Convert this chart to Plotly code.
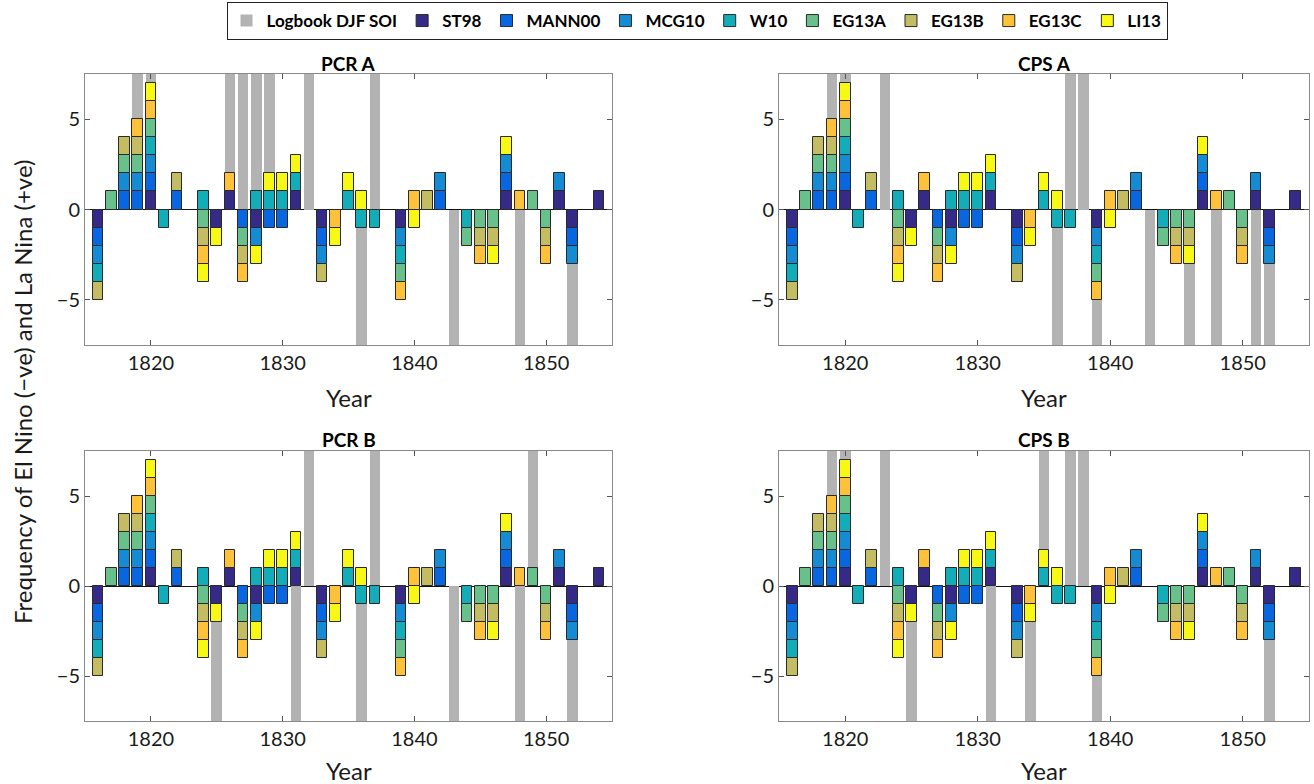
import plotly.graph_objects as go
from plotly.subplots import make_subplots

years = list(range(1816, 1855))

# ENSO classification per reconstruction (+1 La Nina, -1 El Nino), years 1816..1854
ST98 = [-1, 0, 0, 0, 1, 0, 0, 0, 0, -1,
        1, 0, -1, 0, 0, 1, 0, -1, 0, 0,
        0, 0, 0, -1, 0, 0, 0, 0, 0, 0,
        0, 1, 0, 0, 0, 1, -1, 0, 1]
MANN00 = [-1, 0, 1, 1, 1, 0, 1, 0, 0, 0,
          0, -1, 0, -1, -1, 0, 0, -1, 0, 0,
          0, 0, 0, 0, 0, 0, 1, 0, 0, 0,
          0, 1, 0, 0, 0, 0, -1, 0, 0]
MCG10 = [-1, 0, 1, 1, 1, 0, 0, 0, 0, 0,
         0, 0, -1, 0, 0, 0, 0, -1, 0, 0,
         0, 0, 0, -1, 0, 0, 1, 0, 0, 0,
         0, 1, 0, 0, 0, 1, -1, 0, 0]
W10 = [-1, 0, 0, 0, 1, -1, 0, 0, 1, 0,
       0, 0, 1, 1, 1, 1, 0, 0, 0, 1,
       -1, -1, 0, -1, 0, 0, 0, 0, -1, 0,
       0, 0, 0, 0, 0, 0, 0, 0, 0]
EG13A = [0, 1, 1, 1, 1, 0, 0, 0, -1, 0,
         0, -1, 0, 0, 0, 0, 0, 0, 0, 0,
         0, 0, 0, -1, 0, 0, 0, 0, -1, -1,
         -1, 0, 0, 1, -1, 0, 0, 0, 0]
EG13B = [-1, 0, 1, 1, 0, 0, 1, 0, -1, 0,
         0, -1, 0, 0, 0, 0, 0, -1, 0, 0,
         0, 0, 0, 0, 0, 1, 0, 0, 0, -1,
         -1, 0, 0, 0, -1, 0, 0, 0, 0]
EG13C = [0, 0, 0, 1, 1, 0, 0, 0, -1, 0,
         1, -1, 0, 0, 0, 0, 0, 0, -1, 0,
         0, 0, 0, -1, 1, 0, 0, 0, 0, -1,
         0, 0, 1, 0, -1, 0, 0, 0, 0]
LI13 = [0, 0, 0, 0, 1, 0, 0, 0, -1, -1,
        0, 0, -1, 1, 1, 1, 0, 0, -1, 1,
        1, 0, 0, 0, -1, 0, 0, 0, 0, 0,
        -1, 1, 0, 0, 0, 0, 0, 0, 0]

model_names = ["ST98", "MANN00", "MCG10", "W10", "EG13A", "EG13B", "EG13C", "LI13"]
model_values = [ST98, MANN00, MCG10, W10, EG13A, EG13B, EG13C, LI13]
model_colors = ["#352a87", "#0766e0", "#158bd4", "#12adb8", "#68c08a",
                "#c4bc62", "#fdc13a", "#f7f814"]

# Logbook DJF SOI years per panel (La Nina top / El Nino bottom)
PCR_A_nina = [1819, 1820, 1826, 1827, 1828, 1829, 1832, 1837]
PCR_A_nino = [1836, 1843, 1848, 1852]
CPS_A_nina = [1819, 1820, 1823, 1837, 1838]
CPS_A_nino = [1836, 1839, 1843, 1846, 1848, 1851, 1852]
PCR_B_nina = [1832, 1837, 1849]
PCR_B_nino = [1825, 1831, 1836, 1843, 1848, 1852]
CPS_B_nina = [1819, 1820, 1823, 1835, 1837, 1838]
CPS_B_nino = [1825, 1831, 1834, 1839, 1852]

panel_titles = ["PCR A", "CPS A", "PCR B", "CPS B"]
panel_soi = [(PCR_A_nina, PCR_A_nino), (CPS_A_nina, CPS_A_nino),
             (PCR_B_nina, PCR_B_nino), (CPS_B_nina, CPS_B_nino)]
SOI_EXTENT = 10  # gray bars run beyond the axis limits

fig = make_subplots(rows=2, cols=2)
positions = [(1, 1), (1, 2), (2, 1), (2, 2)]

for p, ((r, c), (nina, nino)) in enumerate(zip(positions, panel_soi)):
    sx = nina + nino
    sy = [SOI_EXTENT] * len(nina) + [-SOI_EXTENT] * len(nino)
    fig.add_trace(go.Bar(x=sx, y=sy, base=0, width=0.8, name="Logbook DJF SOI",
                         marker=dict(color="#b3b3b3", line=dict(width=0)),
                         showlegend=(p == 0), legendgroup="soi"), row=r, col=c)
    pos = [0] * len(years)
    neg = [0] * len(years)
    for name, vals, col in zip(model_names, model_values, model_colors):
        bx, by, bb = [], [], []
        for i, v in enumerate(vals):
            if v > 0:
                bx.append(years[i]); by.append(v); bb.append(pos[i]); pos[i] += v
            elif v < 0:
                bx.append(years[i]); by.append(v); bb.append(neg[i]); neg[i] += v
        fig.add_trace(go.Bar(x=bx, y=by, base=bb, width=0.8, name=name,
                             marker=dict(color=col, line=dict(color="#2a2a2a", width=1)),
                             showlegend=(p == 0), legendgroup=name), row=r, col=c)

W, H = 1314, 784
xdoms = [[85 / W, 612 / W], [779 / W, 1309 / W]]
ydoms = [[1 - 345 / H, 1 - 74 / H], [1 - 721 / H, 1 - 451 / H]]

tickfont = dict(family="Lato, Open Sans, sans-serif", size=20, color="#1a1a1a")
for k, (r, c) in enumerate(positions):
    fig.update_xaxes(domain=xdoms[c - 1], range=[1815, 1855], tickvals=[1820, 1830, 1840, 1850],
                     ticks="inside", ticklen=5, tickcolor="#555", showline=True, linecolor="#8a8a8a",
                     linewidth=1, mirror="allticks", showgrid=False, zeroline=False,
                     tickfont=tickfont, row=r, col=c)
    fig.update_yaxes(domain=ydoms[r - 1], range=[-7.5, 7.5], tickvals=[-5, 0, 5],
                     ticks="inside", ticklen=5, tickcolor="#555", showline=True, linecolor="#8a8a8a",
                     linewidth=1, mirror="allticks", showgrid=False, zeroline=True,
                     zerolinecolor="#111", zerolinewidth=1, tickfont=tickfont, row=r, col=c)

annos = []
title_font = dict(family="Lato, Open Sans, sans-serif", size=19, color="black", weight="bold")
label_font = dict(family="Lato, Open Sans, sans-serif", size=24, color="#1a1a1a")
centers_x = [348.5 / W, 1044 / W]
title_y = [1 - 64 / H, 1 - 440 / H]
year_y = [1 - 397 / H, 1 - 770 / H]
for k, (r, c) in enumerate(positions):
    annos.append(dict(text=panel_titles[k], x=centers_x[c - 1], y=title_y[r - 1], xref="paper",
                      yref="paper", showarrow=False, font=title_font, xanchor="center",
                      yanchor="middle"))
    annos.append(dict(text="Year", x=centers_x[c - 1], y=year_y[r - 1], xref="paper",
                      yref="paper", showarrow=False, font=label_font, xanchor="center",
                      yanchor="middle"))
annos.append(dict(text="Frequency of El Nino (\u2212ve) and La Nina (+ve)", x=22 / W, y=1 - 392 / H,
                  xref="paper", yref="paper", showarrow=False, textangle=-90, font=label_font,
                  xanchor="center", yanchor="middle"))

fig.update_layout(
    width=W, height=H, barmode="overlay", bargap=0,
    margin=dict(l=0, r=0, t=0, b=0),
    plot_bgcolor="white", paper_bgcolor="white",
    annotations=annos,
    legend=dict(orientation="h", x=697 / W, xanchor="center", y=1 - 2 / H, yanchor="top",
                bordercolor="#222", borderwidth=1, bgcolor="white",
                font=dict(family="Lato, Open Sans, sans-serif", size=17, color="black", weight="bold"),
                itemwidth=30, tracegroupgap=0),
)

fig.write_html("out.html", config={"displayModeBar": False},
               post_script="document.body.style.margin='0px';document.body.style.overflow='hidden';")
